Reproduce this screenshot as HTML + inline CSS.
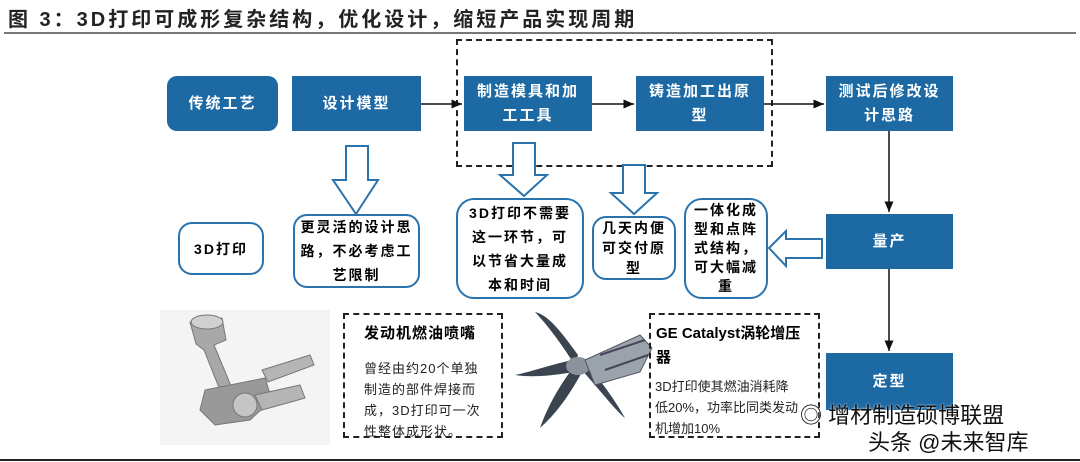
<!DOCTYPE html>
<html><head><meta charset="utf-8"><style>
*{margin:0;padding:0;box-sizing:border-box}
body{width:1080px;height:462px;background:#fff;position:relative;overflow:hidden;font-family:"Liberation Sans","Noto Sans CJK SC",sans-serif}
.a{position:absolute}
.b{position:absolute;background:#1c69a4;color:#fff;font-weight:bold;font-size:15px;display:flex;align-items:center;justify-content:center;text-align:center;line-height:24px;letter-spacing:2px}
.w{position:absolute;border:2px solid #2b73ad;border-radius:14px;background:#fff;color:#000;font-weight:bold;font-size:14px;display:flex;align-items:center;justify-content:center;text-align:center;line-height:24px;letter-spacing:2px;white-space:nowrap}
.d{position:absolute;border:2px dashed #222}
</style></head><body>
<div class="a" style="left:8px;top:3px;font-size:20px;font-weight:bold;color:#222;letter-spacing:3px">图 3：3D打印可成形复杂结构，优化设计，缩短产品实现周期</div>
<div class="a" style="left:4px;top:32px;width:1072px;height:2px;background:#777"></div>
<div class="d" style="left:456px;top:39px;width:317px;height:128px"></div>

<div class="b" style="left:167px;top:76px;width:111px;height:55px;border-radius:10px">传统工艺</div>
<div class="b" style="left:292px;top:76px;width:129px;height:55px">设计模型</div>
<div class="b" style="left:464px;top:76px;width:128px;height:55px">制造模具和加<br>工工具</div>
<div class="b" style="left:636px;top:76px;width:128px;height:55px">铸造加工出原<br>型</div>
<div class="b" style="left:826px;top:76px;width:127px;height:55px">测试后修改设<br>计思路</div>
<div class="b" style="left:826px;top:214px;width:127px;height:55px">量产</div>
<div class="b" style="left:826px;top:353px;width:127px;height:57px">定型</div>

<div class="w" style="left:178px;top:222px;width:86px;height:53px">3D打印</div>
<div class="w" style="left:293px;top:214px;width:127px;height:74px">更灵活的设计思<br>路，不必考虑工<br>艺限制</div>
<div class="w" style="left:456px;top:198px;width:128px;height:101px;border-radius:18px">3D打印不需要<br>这一环节，可<br>以节省大量成<br>本和时间</div>
<div class="w" style="left:592px;top:216px;width:84px;height:64px;line-height:20px">几天内便<br>可交付原<br>型</div>
<div class="w" style="left:684px;top:198px;width:84px;height:101px;border-radius:18px;line-height:19px">一体化成<br>型和点阵<br>式结构，<br>可大幅减<br>重</div>

<svg class="a" style="left:0;top:0" width="1080" height="462">
<defs><marker id="m" markerWidth="8" markerHeight="8" refX="7" refY="4" orient="auto"><path d="M0,1 L7,4 L0,7z" fill="#111"/></marker></defs>
<g stroke="#111" stroke-width="1.5" fill="none">
<line x1="421" y1="104" x2="462" y2="104" marker-end="url(#m)"/>
<line x1="592" y1="104" x2="634" y2="104" marker-end="url(#m)"/>
<line x1="764" y1="104" x2="824" y2="104" marker-end="url(#m)"/>
<line x1="889" y1="131" x2="889" y2="212" marker-end="url(#m)"/>
<line x1="889" y1="269" x2="889" y2="351" marker-end="url(#m)"/>
</g>
<g stroke="#2b73ad" stroke-width="2" fill="#fff">
<path d="M346,146 L368,146 L368,180 L378,180 L356,214 L333,180 L346,180z"/>
<path d="M513,143 L535,143 L535,175 L547,175 L524,196 L500,175 L513,175z"/>
<path d="M623,165 L645,165 L645,193 L657,193 L634,214 L611,193 L623,193z"/>
<path d="M822,239 L822,258 L786,258 L786,266 L769,248 L786,231 L786,239z"/>
</g>
<rect x="160" y="310" width="170" height="135" fill="#f4f4f4"/>
<g fill="#a8a8a8" stroke="#777" stroke-width="1">
<path d="M190,322 L222,318 L226,340 L214,345 L236,398 L226,405 L204,350 L196,344z"/>
<ellipse cx="207" cy="322" rx="16" ry="7" fill="#d0d0d0"/>
<path d="M205,390 L265,378 L272,400 L250,420 L215,425 L200,410z" fill="#999"/>
<path d="M255,395 L300,385 L305,398 L262,410z" fill="#b5b5b5"/>
<path d="M262,370 L310,355 L314,365 L268,382z" fill="#b5b5b5"/>
<circle cx="245" cy="405" r="12" fill="#c5c5c5"/>
</g>
<g fill="#3a4550">
<path d="M578,355 C560,330 548,315 535,312 C552,330 565,350 575,365z"/>
<path d="M575,365 C560,385 548,405 540,428 C560,410 572,390 582,372z"/>
<path d="M580,368 C600,390 615,410 625,418 C612,395 598,378 588,365z"/>
<path d="M572,360 C550,365 530,372 515,375 C535,378 555,375 575,372z"/>
</g>
<ellipse cx="578" cy="366" rx="12" ry="9" fill="#8a939c"/>
<path d="M585,360 L640,335 L652,348 L640,372 L595,385z" fill="#9aa3ac" stroke="#556" stroke-width="1"/>
<path d="M600,355 L645,340 M605,370 L648,355" stroke="#445" stroke-width="2"/>
<line x1="0" y1="460" x2="1080" y2="460" stroke="#222" stroke-width="2"/>
</svg>

<div class="d" style="left:343px;top:313px;width:160px;height:125px"></div>
<div class="a" style="left:364px;top:322px;font-size:15px;font-weight:bold;color:#000;letter-spacing:1px">发动机燃油喷嘴</div>
<div class="a" style="left:364px;top:358px;font-size:13px;line-height:21px;color:#222;letter-spacing:1px;white-space:nowrap">曾经由约20个单独<br>制造的部件焊接而<br>成，3D打印可一次<br>性整体成形状。</div>

<div class="d" style="left:649px;top:313px;width:171px;height:125px"></div>
<div class="a" style="left:656px;top:322px;font-size:15px;font-weight:bold;line-height:24px;color:#000;white-space:nowrap">GE Catalyst涡轮增压<br>器</div>
<div class="a" style="left:655px;top:376px;font-size:13px;line-height:21px;color:#222;white-space:nowrap">3D打印使其燃油消耗降<br>低20%，功率比同类发动<br>机增加10%</div>

<div class="a" style="left:800px;top:398px;font-size:22px;color:#111;text-shadow:0 0 2px #fff">◎ 增材制造硕博联盟</div>
<div class="a" style="left:868px;top:425px;font-size:22px;color:#111;text-shadow:0 0 2px #fff">头条 @未来智库</div>
</body></html>
